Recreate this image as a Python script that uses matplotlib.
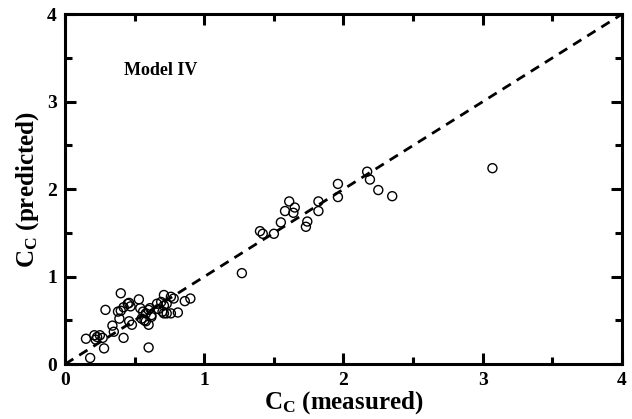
import matplotlib
matplotlib.use("Agg")
import matplotlib.pyplot as plt
from matplotlib.ticker import MultipleLocator

# measured vs predicted values
measured = [0.18, 0.15, 0.21, 0.22, 0.23, 0.25, 0.27, 0.28, 0.29, 0.34, 0.35,
            0.38, 0.39, 0.40, 0.40, 0.42, 0.42, 0.45, 0.46, 0.46, 0.48, 0.53,
            0.54, 0.55, 0.56, 0.57, 0.58, 0.60, 0.60, 0.61, 0.62, 0.60, 0.47,
            0.66, 0.69, 0.71, 0.73, 0.71, 0.73, 0.76, 0.76, 0.78, 0.81, 0.71,
            0.86, 0.90, 0.67, 0.70, 0.62, 0.58,
            1.27, 1.40, 1.42, 1.50, 1.55, 1.58, 1.61, 1.65, 1.64, 1.73, 1.74,
            1.82, 1.82, 1.96, 1.96, 2.17, 2.19, 2.25, 2.35, 3.07]
predicted = [0.07, 0.29, 0.33, 0.28, 0.31, 0.33, 0.30, 0.18, 0.62, 0.44, 0.37,
             0.60, 0.52, 0.81, 0.61, 0.65, 0.30, 0.69, 0.70, 0.49, 0.45, 0.74,
             0.64, 0.52, 0.60, 0.50, 0.58, 0.62, 0.45, 0.64, 0.54, 0.19, 0.66,
             0.69, 0.71, 0.67, 0.69, 0.58, 0.58, 0.58, 0.77, 0.75, 0.59, 0.79,
             0.72, 0.75, 0.63, 0.60, 0.56, 0.49,
             1.04, 1.52, 1.49, 1.49, 1.62, 1.75, 1.86, 1.79, 1.73, 1.57, 1.63,
             1.86, 1.75, 2.06, 1.91, 2.20, 2.11, 1.99, 1.92, 2.24]

model_label = "Model IV"

plt.rcParams['font.family'] = ['Liberation Serif', 'DejaVu Serif']
plt.rcParams['font.weight'] = 'bold'
plt.rcParams['mathtext.fontset'] = 'custom'
plt.rcParams['mathtext.bf'] = 'Liberation Serif:bold'
plt.rcParams['mathtext.rm'] = 'Liberation Serif:bold'

fig = plt.figure(figsize=(6.32, 4.19), dpi=100)
ax = fig.add_axes([0.103, 0.131, 0.881, 0.835])

ax.plot([0, 4], [0, 4], linestyle=(0, (3.5, 2.5)), color='black', linewidth=2)
ax.scatter(measured, predicted, s=42, facecolors='none', edgecolors='black',
           linewidths=1.0, zorder=3)

ax.text(0.42, 3.36, model_label, fontsize=13, fontweight='bold', va='center')

ax.set_xlim(0, 4)
ax.set_ylim(0, 4)
ax.xaxis.set_major_locator(MultipleLocator(1))
ax.yaxis.set_major_locator(MultipleLocator(1))
ax.xaxis.set_minor_locator(MultipleLocator(0.5))
ax.yaxis.set_minor_locator(MultipleLocator(0.5))
ax.tick_params(which='both', direction='in', top=True, right=True, width=2.2)
ax.tick_params(which='major', length=8, labelsize=14, pad=6)
ax.tick_params(which='minor', length=5)
for lab in ax.get_xticklabels() + ax.get_yticklabels():
    lab.set_fontweight('bold')
for sp in ax.spines.values():
    sp.set_linewidth(2.2)

ax.set_xlabel(r'$\mathbf{C_C}$ (measured)', fontsize=18, fontweight='bold', labelpad=0)
ax.set_ylabel(r'$\mathbf{C_C}$ (predicted)', fontsize=18, fontweight='bold', labelpad=4)

fig.savefig('out.png', dpi=100)
